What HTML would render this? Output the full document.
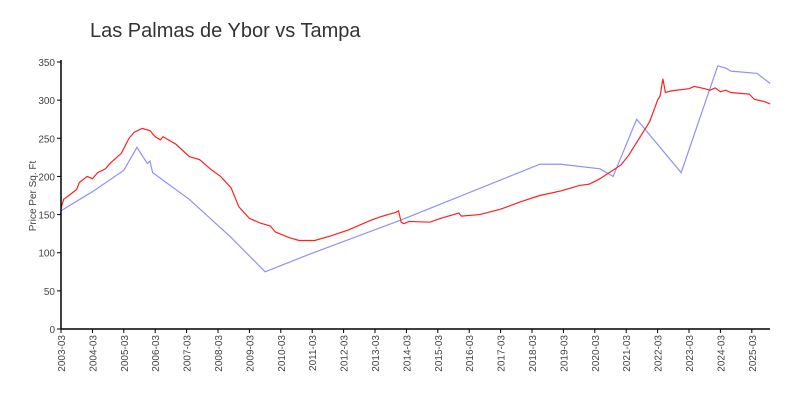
<!DOCTYPE html>
<html><head><meta charset="utf-8"><style>
body{margin:0;background:#fff;}
svg text{font-family:"Liberation Sans",sans-serif;fill:#444;}
</style></head><body>
<svg id="chart" width="800" height="400">
<text x="90" y="37" font-size="20" style="fill:#333">Las Palmas de Ybor vs Tampa</text>
<text transform="translate(36,196) rotate(-90)" font-size="10" text-anchor="middle">Price Per Sq. Ft</text>
<g id="grid"></g><g id="series"></g><g id="axes"></g>
</svg>
<script>
// months since 2003-03
const redMonths=[0,1,3,6,7,10,12,14,17,19,23,26,28,31,34,36,38,39,44,49,53,57,61,65,68,72,76,80,82,87,91,97,103,110,118,122,128,129,130,131,133,141,145,152,153,160,168,175,183,191,198,202,206,210,214,217,221,225,228,229,230,231,233,235,240,242,246,248,250,252,254,256,259,263,265,269,271];
const redValues=[158,170,175,183,192,200,197,205,210,218,230,250,258,263,260,252,248,252,242,226,222,210,200,185,160,145,139,135,127,120,116,116,122,130,142,147,153,155,140,138,141,140,145,152,148,150,157,166,175,181,188,190,197,206,215,228,250,272,300,306,328,310,312,313,315,318,315,313,316,311,313,310,309,308,301,298,295];
const blueMonths=[0,12,24,29,33,34,35,49,65,78,95,130,183,191,206,211,220,237,251,254,256,263,266,271];
const blueValues=[155,180,208,238,217,220,205,170,120,75,98,143,216,216,210,200,275,205,345,342,338,336,335,322];
const yTicks=[0,50,100,150,200,250,300,350];
const xTickLabels=[];for(let y=2003;y<=2025;y++)xTickLabels.push(y+"-03");
const NS="http://www.w3.org/2000/svg";
const X0=61,Y0=329,PXM=31.4/12,PXV=267/350;
const xs=m=>X0+m*PXM, ys=v=>Y0-v*PXV;
function mk(t,a,p){const e=document.createElementNS(NS,t);for(const k in a)e.setAttribute(k,a[k]);p.appendChild(e);return e;}
const axes=document.getElementById('axes'),series=document.getElementById('series');
let l=mk('line',{x1:X0,y1:ys(350)-2,x2:X0,y2:Y0,stroke:'#000','stroke-width':1.5},axes);


l=mk('line',{x1:X0,y1:Y0,x2:770,y2:Y0,stroke:'#000','stroke-width':1.5},axes);


yTicks.forEach(v=>{const y=ys(v);
 mk('line',{x1:X0-4,y1:y,x2:X0,y2:y,stroke:'#000'},axes);
 const t=mk('text',{x:X0-6,y:y+4,'font-size':10,'text-anchor':'end'},axes);t.textContent=v;
 
 });
xTickLabels.forEach((s,i)=>{const x=xs(i*12);
 mk('line',{x1:x,y1:Y0,x2:x,y2:Y0+4,stroke:'#000'},axes);
 const t=mk('text',{transform:`translate(${x+4},${Y0+6}) rotate(-90)`,'font-size':10,'text-anchor':'end'},axes);t.textContent=s;
 
 });
function line(ms,vs,c,name){const p=mk('polyline',{points:ms.map((m,i)=>xs(m)+','+ys(vs[i])).join(' '),fill:'none',stroke:c,'stroke-width':1.2},series);
 
 }
line(blueMonths,blueValues,'#8f8fff','tampa-line');
line(redMonths,redValues,'#ff2020','las-palmas-line');
</script>
</body></html>
